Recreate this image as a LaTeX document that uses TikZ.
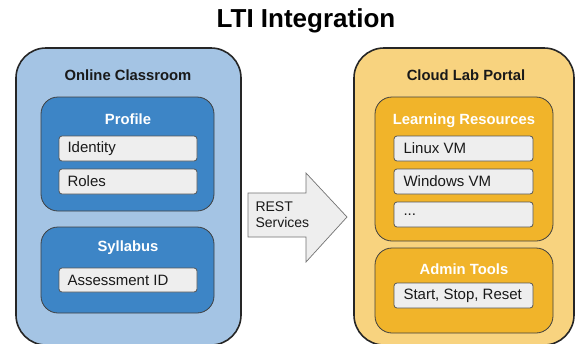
\documentclass[tikz,border=0pt]{standalone}
\usepackage{fontspec}
\setmainfont{Liberation Sans}
\usetikzlibrary{shapes.arrows}
\definecolor{lblue}{HTML}{A4C4E4}
\definecolor{dblue}{HTML}{3D85C6}
\definecolor{lorange}{HTML}{F8D37F}
\definecolor{dorange}{HTML}{F1B42A}
\definecolor{itemgray}{HTML}{EEEEEE}
\definecolor{edgegray}{HTML}{555555}
\tikzset{
  outerbox/.style={draw=black!85, line width=1.6pt, rounded corners=30pt},
  innerbox/.style={draw=black!75, line width=0.8pt, rounded corners=17pt},
  itembox/.style={draw=edgegray, fill=itemgray, line width=0.8pt, rounded corners=3pt},
  itemtext/.style={anchor=west, font=\fontsize{15}{17}\selectfont, text=black!90},
  headtext/.style={font=\bfseries\fontsize{14.8}{17}\selectfont, text=black!90},
  subhead/.style={font=\bfseries\fontsize{14.8}{17}\selectfont, text=white},
}
\begin{document}
\begin{tikzpicture}[x=1pt,y=-1pt]
\useasboundingbox (0,0) rectangle (576,343);
\clip (0,0) rectangle (576,343);
\fill[white] (0,0) rectangle (576,343);
\node[font=\bfseries\fontsize{26}{30}\selectfont] (title) at (306,21) {LTI Integration};
% left
\draw[outerbox, fill=lblue] (16,48) rectangle (241,345);
\node[headtext] (oc) at (128,75) {Online Classroom};
\draw[innerbox, fill=dblue] (41,97) rectangle (214,211);
\node[subhead] (profile) at (128,119) {Profile};
\draw[itembox] (59,136) rectangle (197,161);
\node[itemtext] (identity) at (64,148.5) {Identity};
\draw[itembox] (59,169) rectangle (197,194);
\node[itemtext] (roles) at (64,181.5) {Roles};
\draw[innerbox, fill=dblue] (41,227) rectangle (214,313);
\node[subhead] (syllabus) at (128,248) {Syllabus};
\draw[itembox] (59,268) rectangle (197,292);
\node[itemtext] (assess) at (64,280) {Assessment ID};
% right
\draw[outerbox, fill=lorange] (354,48) rectangle (574,345);
\node[headtext] (clp) at (466,75) {Cloud Lab Portal};
\draw[innerbox, fill=dorange] (375,97) rectangle (553,241);
\node[subhead] (lr) at (464,121) {Learning Resources};
\draw[itembox] (394,136) rectangle (533,161);
\node[itemtext] (linux) at (400,148.5) {Linux VM};
\draw[itembox] (394,169) rectangle (533,194);
\node[itemtext] (windows) at (400,181.5) {Windows VM};
\draw[itembox] (394,202) rectangle (533,227);
\node[itemtext] (dots) at (400,214.5) {...};
\draw[innerbox, fill=dorange] (375,248) rectangle (553,333);
\node[subhead] (admin) at (464,269) {Admin Tools};
\draw[itembox] (394,283) rectangle (533,308);
\node[itemtext] (ssr) at (400,295.5) {Start, Stop, Reset};
% arrow
\draw[draw=black!55, fill=itemgray, line width=0.7pt, line join=miter]
  (248,193) -- (306,193) -- (306,173) -- (347,217) -- (306,262) -- (306,237) -- (248,237) -- cycle;
\node[anchor=west, align=left, font=\fontsize{14}{16}\selectfont, text=black!90] (rest) at (252,215) {REST\\Services};
\end{tikzpicture}
\end{document}
